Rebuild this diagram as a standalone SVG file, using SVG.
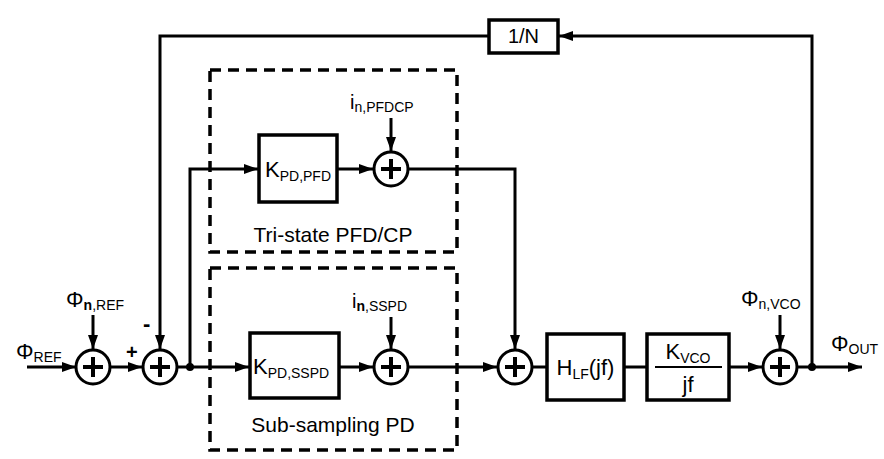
<svg xmlns="http://www.w3.org/2000/svg" width="884" height="459" viewBox="0 0 884 459">
<defs>
<marker id="ah" markerWidth="14" markerHeight="10" refX="14" refY="5" orient="auto" markerUnits="userSpaceOnUse">
<path d="M0,0 L14,5 L0,10 Z" fill="#000"/>
</marker>
<style>
.ln{fill:none;stroke:#000;stroke-width:3}
.bx{fill:#fff;stroke:#000;stroke-width:3.5}
.sum{fill:#fff;stroke:#000;stroke-width:3}
.dash{fill:none;stroke:#000;stroke-width:3.5;stroke-dasharray:11,7}
text{font-family:"Liberation Sans",Arial,sans-serif;fill:#000}
.t{font-size:20px}
.g{font-size:21px}
.p{font-size:22px}
.s{font-size:14px}
</style>
<g id="sumsym">
<circle cx="0" cy="0" r="17" class="sum"/>
<path d="M-10,0 H10 M0,-10 V10" stroke="#000" stroke-width="4"/>
</g>
</defs>
<rect width="884" height="459" fill="#fff"/>

<g id="groups">
<rect id="pfdcp" x="210" y="70" width="247" height="182" class="dash"/>
<rect id="sspd" x="210" y="268" width="247" height="182" class="dash"/>
<text x="333" y="242" class="g" text-anchor="middle">Tri-state PFD/CP</text>
<text x="333" y="432" class="g" text-anchor="middle">Sub-sampling PD</text>
</g>

<g id="connectors">
<line x1="27" y1="367" x2="76" y2="367" class="ln" marker-end="url(#ah)"/>
<line x1="93" y1="315" x2="93" y2="349" class="ln" marker-end="url(#ah)"/>
<line x1="110" y1="367" x2="142" y2="367" class="ln" marker-end="url(#ah)"/>
<polyline points="489,36 160,36 160,349" class="ln" marker-end="url(#ah)"/>
<line x1="177" y1="367" x2="249" y2="367" class="ln" marker-end="url(#ah)"/>
<polyline points="190,367 190,169 258,169" class="ln" marker-end="url(#ah)"/>
<line x1="337" y1="169" x2="373" y2="169" class="ln" marker-end="url(#ah)"/>
<line x1="391" y1="118" x2="391" y2="151" class="ln" marker-end="url(#ah)"/>
<line x1="339" y1="367" x2="373" y2="367" class="ln" marker-end="url(#ah)"/>
<line x1="391" y1="317" x2="391" y2="349" class="ln" marker-end="url(#ah)"/>
<polyline points="408,169 515,169 515,349" class="ln" marker-end="url(#ah)"/>
<line x1="408" y1="367" x2="497" y2="367" class="ln" marker-end="url(#ah)"/>
<line x1="532" y1="367" x2="547" y2="367" class="ln"/>
<line x1="624" y1="367" x2="647" y2="367" class="ln"/>
<line x1="729" y1="367" x2="762" y2="367" class="ln" marker-end="url(#ah)"/>
<line x1="780" y1="315" x2="780" y2="349" class="ln" marker-end="url(#ah)"/>
<line x1="797" y1="367" x2="862" y2="367" class="ln" marker-end="url(#ah)"/>
<polyline points="812,367 812,36 559,36" class="ln" marker-end="url(#ah)"/>
<circle cx="190" cy="367" r="4" fill="#000"/>
<circle cx="812" cy="367" r="4" fill="#000"/>
</g>

<g id="sum1"><use href="#sumsym" x="93" y="367"/></g>
<g id="sum2"><use href="#sumsym" x="160" y="367"/></g>
<g id="sum_pfd"><use href="#sumsym" x="391" y="169"/></g>
<g id="sum_sspd"><use href="#sumsym" x="391" y="367"/></g>
<g id="sum3"><use href="#sumsym" x="515" y="367"/></g>
<g id="sum4"><use href="#sumsym" x="780" y="367"/></g>

<g id="divN">
<rect x="489" y="20" width="69" height="33" class="bx"/>
<text x="523.5" y="43" class="t" text-anchor="middle">1/N</text>
</g>
<g id="kpdpfd">
<rect x="259" y="135" width="78" height="67" class="bx"/>
<text x="265" y="177" class="p">K<tspan class="s" dy="4">PD,PFD</tspan></text>
</g>
<g id="kpdsspd">
<rect x="250" y="333" width="89" height="65" class="bx"/>
<text x="253" y="374" class="p">K<tspan class="s" dy="4">PD,SSPD</tspan></text>
</g>
<g id="hlf">
<rect x="547" y="334" width="77" height="66" class="bx"/>
<text x="585.5" y="375" class="p" text-anchor="middle">H<tspan class="s" dy="4">LF</tspan><tspan dy="-4">(jf)</tspan></text>
</g>
<g id="kvco">
<rect x="647" y="334" width="82" height="66" class="bx"/>
<line x1="655" y1="367" x2="722" y2="367" stroke="#000" stroke-width="2"/>
<text x="688" y="359" class="p" text-anchor="middle">K<tspan class="s" dy="4">VCO</tspan></text>
<text x="688" y="392" class="p" text-anchor="middle">jf</text>
</g>

<g id="labels">
<text x="16" y="359" class="p">Φ<tspan class="s" dy="3">REF</tspan></text>
<text x="66" y="307" class="p">Φ<tspan class="s" dy="3" font-weight="bold">n</tspan><tspan class="s">,REF</tspan></text>
<text x="126" y="359" font-size="20" font-weight="bold">+</text>
<text x="143" y="331" font-size="22" font-weight="bold">-</text>
<text x="350" y="109" class="t">i<tspan class="s" dy="3">n,PFDCP</tspan></text>
<text x="352" y="308" class="t">i<tspan class="s" dy="3" font-weight="bold">n</tspan><tspan class="s">,SSPD</tspan></text>
<text x="741" y="306" class="p">Φ<tspan class="s" dy="3">n,VCO</tspan></text>
<text x="831" y="351" class="p">Φ<tspan class="s" dy="3">OUT</tspan></text>
</g>
</svg>
